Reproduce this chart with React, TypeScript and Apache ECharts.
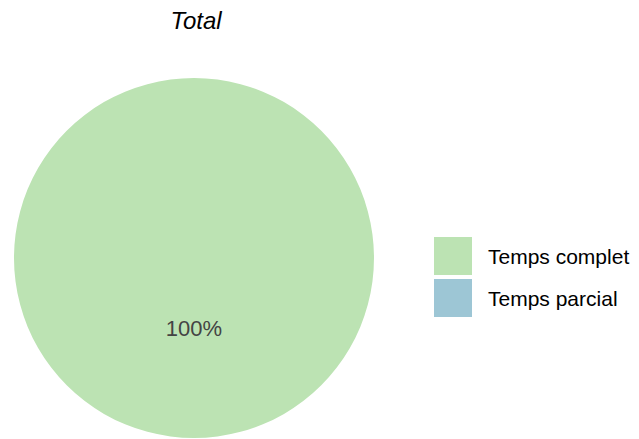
import React, { useEffect, useRef } from "react";
import * as echarts from "echarts";

const categories = ["Temps complet", "Temps parcial"];
const values = [100, 0];
const colors = ["#bce3b3", "#9dc6d5"];
const titleText = "Total";

const FONT = "'Liberation Sans', Arial, sans-serif";

export default function App() {
  const ref = useRef<HTMLDivElement>(null);
  useEffect(() => {
    document.body.style.margin = "0";
    const chart = echarts.init(ref.current!, null, { renderer: "svg" });
    chart.setOption({
      animation: false,
      color: colors,
      title: {
        text: titleText,
        left: 196,
        top: 8,
        padding: 0,
        textAlign: "center",
        textStyle: {
          fontFamily: FONT,
          fontStyle: "italic",
          fontWeight: "normal",
          fontSize: 24,
          color: "#000",
        },
      },
      legend: {
        orient: "vertical",
        left: 434,
        top: 237,
        padding: 0,
        itemWidth: 38,
        itemHeight: 38,
        itemGap: 4,
        icon: "rect",
        data: categories,
        selectedMode: false,
        textStyle: {
          fontFamily: FONT,
          fontSize: 21,
          color: "#000",
          padding: [0, 0, 0, 11],
        },
      },
      series: [
        {
          type: "pie",
          center: [194, 258],
          radius: [0, 180],
          startAngle: 90,
          data: categories.map((c, i) => ({ name: c, value: values[i] })),
          stillShowZeroSum: false,
          minShowLabelAngle: 0.1,
          label: {
            show: true,
            position: "inside",
            formatter: (p: any) => (p.value > 0 ? Math.round(p.percent) + "%" : ""),
            fontFamily: FONT,
            fontSize: 22,
            color: "#444",
            offset: [0, -23],
          },
          labelLine: { show: false },
          itemStyle: { borderWidth: 0 },
          emphasis: { disabled: true },
        },
      ],
    });
    return () => chart.dispose();
  }, []);
  return <div ref={ref} style={{ width: 639, height: 439 }} />;
}
